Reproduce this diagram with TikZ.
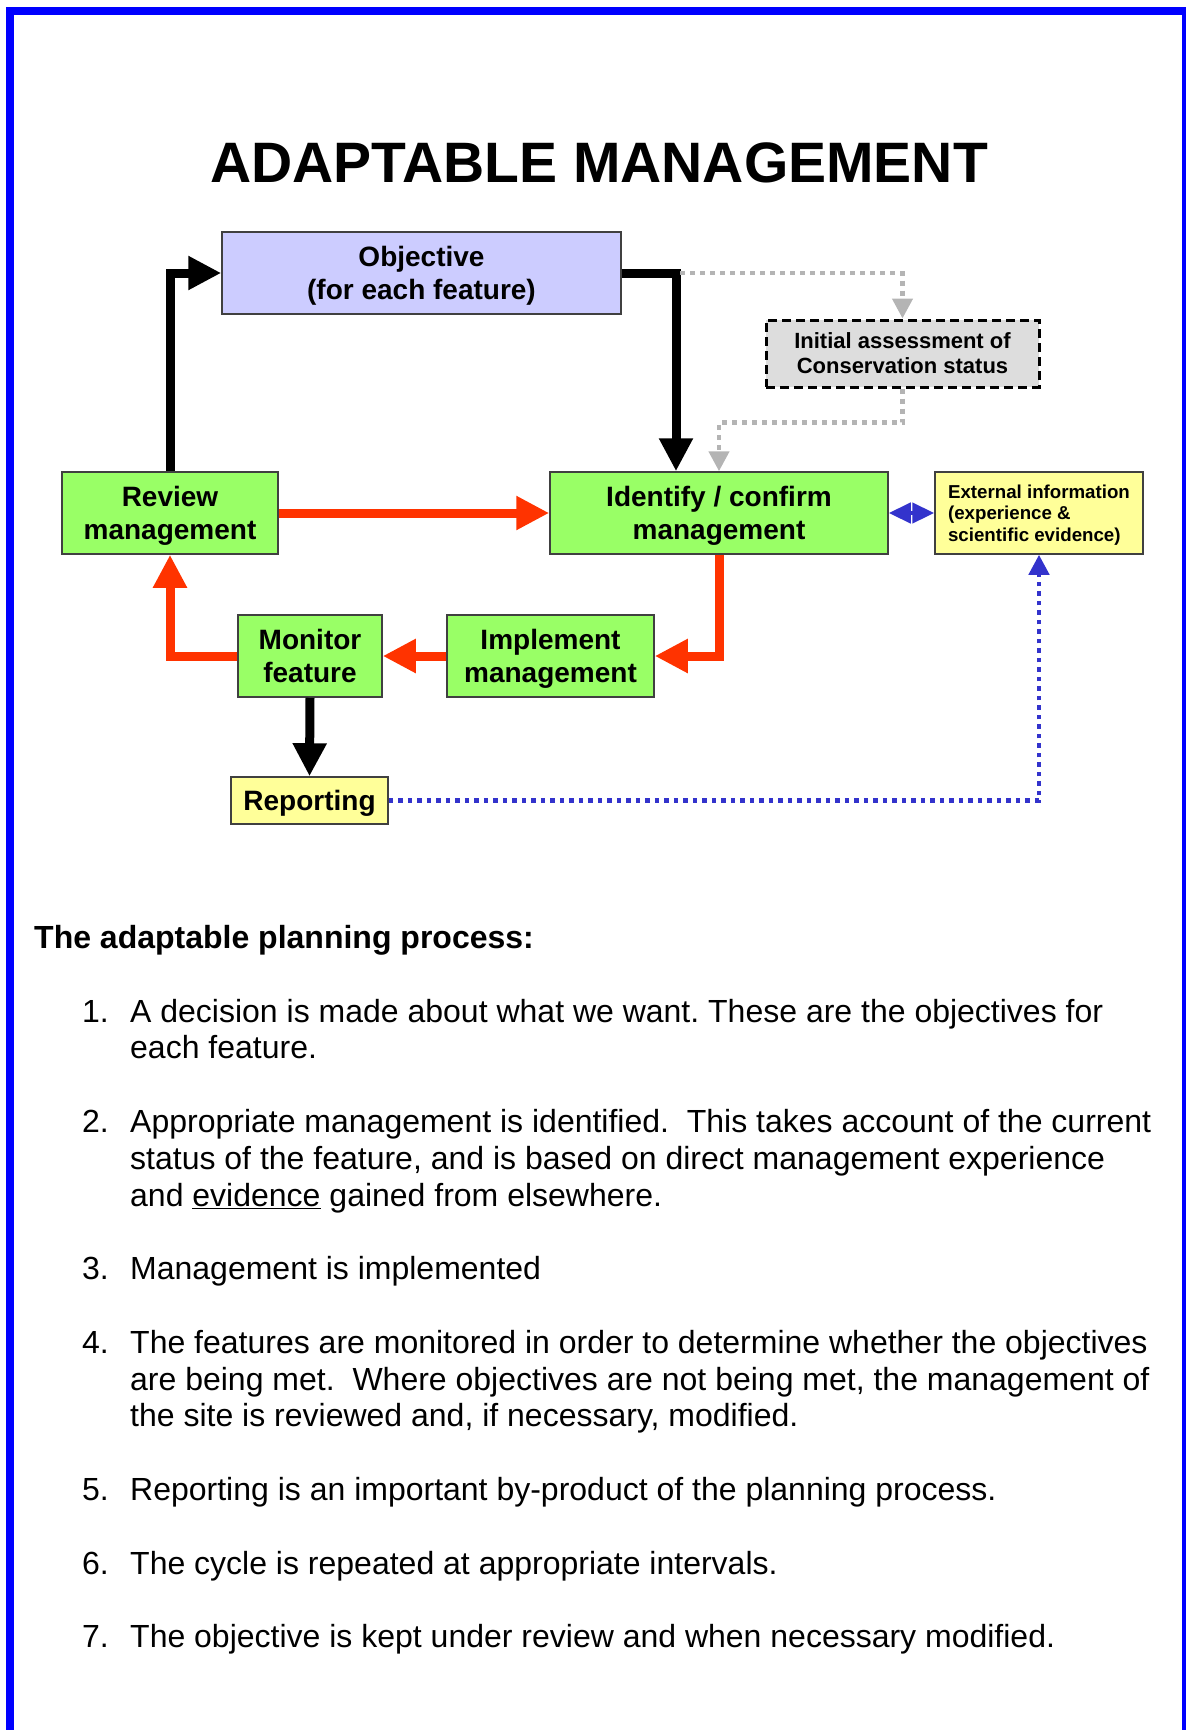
\documentclass[tikz,border=0pt]{standalone}
\usepackage{fontspec}
\setmainfont{Liberation Sans}
\usetikzlibrary{arrows.meta}
\definecolor{frameblue}{HTML}{0000FF}
\definecolor{boxgreen}{HTML}{99FF66}
\definecolor{boxlilac}{HTML}{CCCCFF}
\definecolor{boxyellow}{HTML}{FFFF99}
\definecolor{boxgray}{HTML}{DDDDDD}
\definecolor{flowred}{HTML}{FF3300}
\definecolor{flowblue}{HTML}{3333CC}
\definecolor{flowgray}{HTML}{B4B4B4}
\tikzset{
    box/.style={draw=black!75, line width=1.5pt, inner sep=0pt, align=center, text depth=0pt,
        minimum height=82pt, font=\bfseries\fontsize{28}{33}\selectfont},
    greenbox/.style={box, fill=boxgreen},
    yellowbox/.style={box, fill=boxyellow},
    blackarrow/.style={line width=9pt, line join=miter, -{Triangle[length=33pt,width=32pt]}},
    redarrow/.style={blackarrow, draw=flowred},
    grayflow/.style={line width=4.5pt, draw=flowgray, dash pattern=on 5pt off 5pt,
        -{Triangle[length=20pt,width=20pt]}},
    blueflow/.style={line width=4.5pt, draw=flowblue, dash pattern=on 4.5pt off 5pt,
        -{Triangle[length=20pt,width=20pt]}},
    listtext/.style={anchor=base west, inner sep=0pt, align=left,
        font=\fontsize{32}{36.8}\selectfont}
}
\frenchspacing
\begin{document}
\begin{tikzpicture}[x=1pt,y=-1pt]
                \useasboundingbox (0,0) rectangle (1186,1730);
                \draw[frameblue, line width=8pt] (10,1740) -- (10,11) -- (1186,11) -- (1186,1740);

                \node (title) at (599,182) [anchor=base, font=\bfseries\fontsize{57}{68}\selectfont] {ADAPTABLE MANAGEMENT};

                \node (obj) at (421.5,273) [box, fill=boxlilac, minimum width=399pt] {Objective\\(for each feature)};
                \node (review) at (170,513) [greenbox, minimum width=216pt] {Review\\management};
                \node (ident) at (719,513) [greenbox, minimum width=338pt] {Identify / confirm\\management};
                \node (extinfo) at (1039,513) [yellowbox, minimum width=208pt, align=left,
                    font=\bfseries\fontsize{18.7}{21.7}\selectfont] {External information\\(experience \&\\scientific evidence)};
                \node (initass) at (902.5,353.5) [box, fill=boxgray, draw=black, line width=3pt, dash pattern=on 9pt off 5pt,
                    minimum width=273pt, minimum height=67pt, font=\bfseries\fontsize{22}{25}\selectfont] {Initial assessment of\\Conservation status};
                \node (monit) at (310,656) [greenbox, minimum width=144pt] {Monitor\\feature};
                \node (impl) at (550.5,656) [greenbox, minimum width=207pt] {Implement\\management};
                \node (report) at (309.5,800.5) [yellowbox, minimum width=157pt, minimum height=47pt] {Reporting};
                \coordinate (objcorner) at (680,273);

                \draw[blackarrow] (review.north) |- (obj.west);
                \draw[blackarrow] (obj.east) -| ([xshift=-43pt]ident.north);
                \draw[grayflow] (objcorner) -| (initass.north);
                \draw[grayflow] (initass.south) -- ++(0,34) -| (ident.north);
                \draw[redarrow] (review.east) -- (ident.west);
                \draw[redarrow] (ident.south) |- (impl.east);
                \draw[redarrow] (impl.west) -- (monit.east);
                \draw[redarrow] (monit.west) -| (review.south);
                \draw[blackarrow] (monit.south) -- (report.north);
                \draw[line width=4.5pt, draw=flowblue, {Triangle[length=22pt,width=20pt]}-{Triangle[length=22pt,width=20pt]}] (ident.east) -- (extinfo.west);
                \draw[blueflow] (report.east) -| (extinfo.south);

                \node (heading) at (34,948) [anchor=base west, inner sep=0pt, font=\bfseries\fontsize{32}{36.8}\selectfont] {The adaptable planning process:};

                \node (num1) at (82,1022) [listtext] {1.};
                \node (item1) at (130,1058.8) [listtext] {A decision is made about what we want. These are the objectives for\\each feature.};
                \node (num2) at (82,1132.4) [listtext] {2.};
                \node (item2) at (130,1206) [listtext] {Appropriate management is identified.\ \ This takes account of the current\\status of the feature, and is based on direct management experience\\and \underline{evidence} gained from elsewhere.};
                \node (num3) at (82,1279.6) [listtext] {3.};
                \node (item3) at (130,1279.6) [listtext] {Management is implemented};
                \node (num4) at (82,1353.2) [listtext] {4.};
                \node (item4) at (130,1426.8) [listtext] {The features are monitored in order to determine whether the objectives\\are being met.\ \ Where objectives are not being met, the management of\\the site is reviewed and, if necessary, modified.};
                \node (num5) at (82,1500.4) [listtext] {5.};
                \node (item5) at (130,1500.4) [listtext] {Reporting is an important by-product of the planning process.};
                \node (num6) at (82,1574) [listtext] {6.};
                \node (item6) at (130,1574) [listtext] {The cycle is repeated at appropriate intervals.};
                \node (num7) at (82,1647.6) [listtext] {7.};
                \node (item7) at (130,1647.6) [listtext] {The objective is kept under review and when necessary modified.};
\end{tikzpicture}
\end{document}
